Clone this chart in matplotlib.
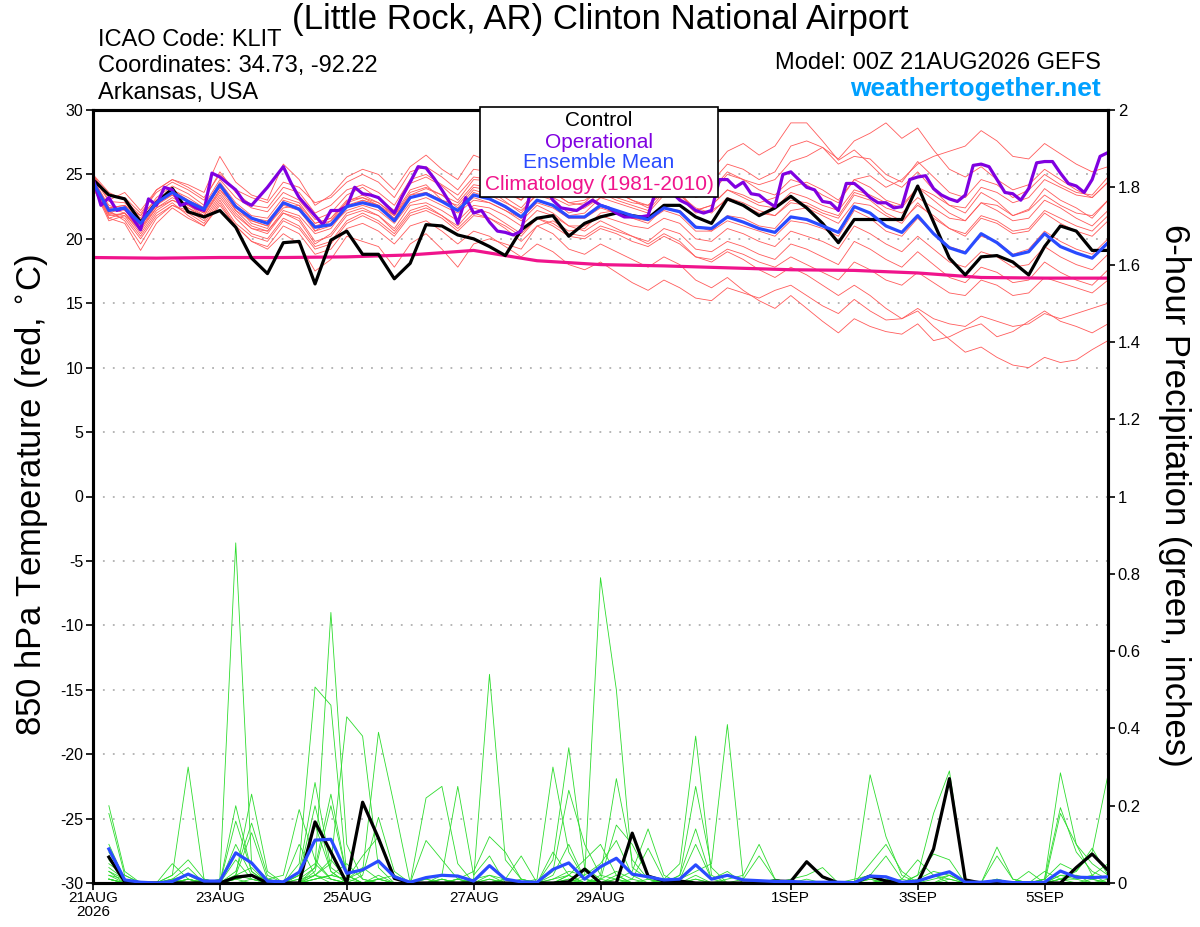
import numpy as np
import matplotlib.pyplot as plt
from matplotlib.patches import Rectangle
from matplotlib.ticker import FuncFormatter

# forecast hours (6-hourly GEFS, 3-hourly operational GFS)
hours = np.arange(0, 385, 6)
hours_op = np.arange(0, 385, 3)

xtick_hours = [0, 48, 96, 144, 192, 264, 312, 360]
xtick_labels = ['21AUG\n2026', '23AUG', '25AUG', '27AUG', '29AUG', '1SEP', '3SEP', '5SEP']

# 850 hPa temperature (C)
control_t = [24.6, 23.4, 23.1, 21.3, 22.8, 23.9, 22.1, 21.7, 22.2, 20.9,
             18.5, 17.3, 19.7, 19.8, 16.5, 19.9, 20.6, 18.8, 18.8, 16.9,
             18.1, 21.1, 21.0, 20.3, 20.0, 19.4, 18.7, 20.7, 21.6, 21.8,
             20.2, 21.2, 21.7, 22.0, 21.8, 21.6, 22.6, 22.6, 21.7, 21.2,
             23.1, 22.6, 21.8, 22.4, 23.3, 22.4, 21.2, 19.7, 21.5, 21.5,
             21.5, 21.5, 24.1, 21.3, 18.5, 17.2, 18.6, 18.7, 18.2, 17.2,
             19.4, 21.0, 20.6, 19.1, 19.1]

mean_t = [24.4, 22.2, 22.4, 21.2, 22.8, 23.6, 22.9, 22.3, 24.2, 22.5,
          21.6, 21.2, 22.8, 22.3, 20.9, 21.1, 22.5, 22.8, 22.5, 21.4,
          23.2, 23.5, 22.9, 22.2, 23.4, 23.1, 22.5, 21.7, 23.0, 22.6,
          21.7, 21.7, 22.6, 22.2, 21.8, 21.5, 22.4, 22.1, 20.9, 20.8,
          21.7, 21.3, 20.8, 20.5, 21.7, 21.5, 21.0, 20.5, 22.5, 22.0,
          21.0, 20.5, 21.8, 20.4, 19.3, 18.9, 20.4, 19.7, 18.7, 19.0,
          20.4, 19.4, 18.9, 18.5, 19.7]

oper_t = [24.7, 22.6, 23.2, 22.2, 22.4, 21.6, 20.7, 23.1, 22.6, 24.0,
          23.8, 22.6, 22.8, 22.4, 22.2, 25.1, 24.8, 24.3, 23.8, 22.9,
          22.6, 23.3, 24.0, 24.8, 25.6, 24.3, 23.2, 22.5, 21.8, 21.1,
          22.2, 22.2, 22.5, 24.0, 23.5, 23.4, 23.2, 22.6, 22.0, 23.3,
          24.4, 25.6, 25.5, 24.7, 23.8, 22.8, 21.2, 23.2, 22.0, 22.2,
          21.3, 20.6, 20.5, 20.3, 20.6, 23.2, 24.0, 24.0, 23.0, 22.4,
          22.3, 22.2, 22.6, 23.0, 22.6, 22.4, 22.0, 21.7, 21.7, 21.7,
          21.8, 23.8, 24.0, 23.6, 23.0, 22.7, 22.2, 22.0, 22.2, 24.6,
          24.6, 24.0, 24.4, 23.5, 23.4, 22.9, 22.5, 25.0, 25.2, 24.6,
          24.0, 23.8, 22.9, 22.8, 22.2, 24.3, 24.3, 23.8, 23.2, 22.8,
          22.8, 22.4, 22.5, 24.6, 24.8, 24.9, 23.9, 23.4, 23.1, 22.9,
          23.4, 25.7, 25.8, 25.6, 24.6, 23.6, 23.5, 23.0, 23.9, 25.9,
          26.0, 26.0, 25.1, 24.3, 24.1, 23.6, 24.6, 26.4, 26.7]

# climatology, one value per day at 00Z
clim_hours = np.arange(0, 385, 24)
clim_t = [18.55, 18.5, 18.55, 18.55, 18.6, 18.75, 19.1, 18.3, 18.0,
          17.9, 17.75, 17.6, 17.55, 17.35, 17.0, 16.95, 16.95]

members_t = [
    [24.8, 22.9, 22.8, 21.6, 23.2, 24.1, 23.5, 22.6, 24.6, 23.2, 22.4, 22.1, 23.6, 23.0, 21.5, 22.0,
     23.4, 24.0, 23.1, 22.2, 24.3, 24.8, 24.1, 23.0, 24.6, 24.5, 23.6, 23.0, 24.8, 24.4, 23.6, 23.9,
     25.2, 24.8, 24.1, 23.8, 25.6, 25.9, 24.6, 25.3, 26.8, 27.4, 26.5, 27.2, 29.0, 29.0, 27.6, 26.1,
     26.9, 25.8, 24.6, 24.0, 25.2, 23.8, 22.6, 22.0, 23.6, 22.9, 21.8, 22.3, 23.9, 23.0, 22.4, 21.6, 23.0],
    [24.2, 21.8, 22.0, 20.6, 22.4, 23.2, 22.6, 21.8, 23.8, 22.6, 21.2, 20.8, 23.0, 22.6, 20.6, 21.4,
     22.9, 23.4, 22.8, 21.9, 23.8, 24.2, 23.0, 22.6, 24.0, 23.8, 22.9, 22.0, 23.6, 23.2, 22.6, 22.8,
     24.0, 23.6, 23.0, 22.4, 24.2, 24.6, 23.2, 23.6, 25.0, 24.6, 24.2, 24.6, 26.0, 26.4, 27.1, 26.2,
     27.6, 28.2, 29.0, 27.8, 28.6, 26.9, 25.4, 24.8, 25.6, 24.6, 23.8, 24.2, 25.4, 24.6, 23.8, 23.2, 24.4],
    [24.5, 22.4, 22.6, 21.4, 23.0, 23.8, 23.2, 22.4, 24.4, 22.8, 21.8, 21.6, 23.2, 22.8, 21.2, 21.6,
     22.8, 23.2, 22.6, 21.6, 23.4, 23.9, 23.4, 22.4, 23.8, 23.4, 22.8, 22.2, 23.4, 23.0, 22.0, 22.4,
     23.2, 22.8, 22.4, 22.0, 23.4, 23.6, 22.2, 22.6, 23.8, 23.4, 22.8, 23.2, 24.0, 24.4, 23.8, 23.0,
     24.6, 24.9, 24.0, 24.6, 25.8, 26.4, 26.8, 27.2, 28.4, 27.6, 26.4, 26.2, 27.4, 26.6, 25.8, 25.2, 25.6],
    [24.9, 23.4, 23.2, 22.0, 23.6, 24.4, 23.8, 23.0, 25.2, 23.6, 22.6, 22.4, 24.0, 23.6, 22.0, 22.6,
     23.8, 24.2, 23.6, 22.6, 24.6, 25.0, 24.2, 23.4, 24.8, 24.6, 23.8, 23.0, 24.2, 23.6, 22.8, 23.0,
     23.8, 23.2, 22.8, 22.6, 23.6, 23.2, 22.0, 22.2, 23.0, 22.6, 22.0, 21.8, 23.0, 22.8, 22.2, 21.8,
     23.6, 23.2, 22.4, 22.0, 23.2, 22.4, 21.6, 21.4, 22.8, 22.6, 21.8, 22.2, 23.4, 22.6, 22.0, 21.8, 23.0],
    [24.3, 22.0, 21.8, 20.8, 22.6, 23.4, 22.4, 21.8, 23.6, 22.0, 20.8, 20.6, 22.2, 21.8, 20.4, 20.8,
     22.4, 23.0, 22.6, 21.8, 23.6, 24.0, 23.4, 22.8, 24.2, 24.0, 23.2, 22.4, 23.8, 23.6, 22.8, 22.6,
     23.6, 23.0, 22.6, 22.2, 23.6, 23.4, 22.4, 22.0, 23.2, 22.8, 22.2, 21.8, 22.8, 22.6, 22.0, 21.6,
     23.4, 23.0, 22.0, 21.4, 22.6, 21.8, 20.8, 20.4, 21.8, 21.4, 20.6, 20.8, 22.2, 21.6, 21.0, 20.6, 21.8],
    [24.6, 22.6, 22.2, 21.0, 22.6, 23.6, 23.0, 22.2, 24.0, 22.4, 21.4, 21.0, 22.6, 22.2, 20.6, 21.0,
     22.2, 22.6, 22.2, 21.2, 22.8, 23.2, 22.6, 22.0, 23.0, 22.8, 22.2, 21.6, 22.8, 22.4, 21.6, 21.6,
     22.4, 22.0, 21.6, 21.4, 22.2, 21.8, 20.6, 20.6, 21.4, 21.0, 20.6, 20.2, 21.4, 21.2, 20.8, 20.2,
     22.2, 21.6, 20.6, 20.2, 21.6, 20.4, 19.4, 19.0, 20.2, 19.8, 18.8, 19.2, 20.6, 19.8, 19.2, 18.8, 20.0],
    [24.0, 21.6, 22.0, 20.4, 22.2, 23.0, 22.4, 21.6, 23.4, 21.8, 20.8, 20.4, 22.0, 21.6, 19.8, 20.2,
     21.8, 22.2, 21.8, 20.8, 22.6, 22.8, 22.2, 21.4, 22.6, 22.4, 21.8, 21.0, 22.2, 21.8, 21.0, 21.0,
     21.8, 21.4, 21.0, 20.8, 21.6, 21.2, 20.0, 19.8, 20.8, 20.4, 19.8, 19.4, 20.6, 20.2, 19.8, 19.2,
     21.0, 20.4, 19.6, 19.0, 20.2, 19.2, 18.2, 17.8, 19.0, 18.6, 17.8, 18.0, 19.4, 18.6, 18.0, 17.6, 18.8],
    [24.1, 21.9, 21.6, 20.0, 21.8, 22.6, 22.0, 21.2, 23.0, 21.2, 20.2, 19.8, 21.4, 20.8, 19.2, 19.6,
     21.2, 21.8, 21.2, 20.2, 21.8, 22.2, 21.6, 20.6, 21.8, 21.6, 21.0, 20.2, 21.6, 21.2, 20.4, 20.2,
     21.0, 20.6, 20.2, 19.8, 20.8, 20.4, 19.2, 19.0, 19.8, 19.4, 18.8, 18.4, 19.6, 19.2, 18.6, 18.0,
     19.8, 19.2, 18.4, 17.8, 19.0, 18.0, 17.0, 16.6, 17.8, 17.4, 16.6, 16.8, 18.2, 17.4, 16.8, 16.4, 17.6],
    [24.7, 22.4, 22.6, 21.8, 23.0, 23.8, 23.0, 22.4, 24.0, 22.6, 21.6, 21.4, 22.8, 22.4, 21.0, 21.4,
     22.6, 23.0, 22.6, 21.6, 23.2, 23.6, 23.0, 22.2, 23.2, 22.8, 22.2, 21.4, 22.6, 22.0, 21.0, 20.6,
     21.4, 20.8, 20.2, 19.6, 20.4, 19.8, 18.6, 18.2, 19.0, 18.4, 17.6, 17.0, 17.8, 17.2, 16.4, 15.6,
     16.4, 15.6, 14.6, 13.8, 14.4, 13.2, 12.2, 11.2, 11.6, 10.8, 10.2, 10.0, 10.8, 10.4, 10.6, 11.4, 12.1],
    [24.2, 22.2, 21.4, 19.6, 21.6, 22.6, 22.2, 21.4, 23.2, 21.6, 20.4, 20.0, 21.6, 21.0, 19.4, 19.8,
     21.4, 22.0, 21.4, 20.4, 22.0, 22.4, 21.8, 20.8, 22.0, 21.6, 20.8, 19.8, 21.0, 20.4, 19.2, 18.8,
     19.6, 19.0, 18.4, 17.8, 18.6, 18.0, 16.8, 16.2, 17.0, 16.0, 15.2, 14.6, 15.6, 14.6, 13.6, 12.7,
     13.8, 13.2, 12.8, 12.6, 13.4, 12.1, 12.4, 13.0, 13.4, 12.4, 12.8, 13.6, 14.4, 13.6, 13.2, 12.7, 13.4],
    [24.0, 21.4, 21.8, 20.2, 22.0, 22.8, 21.8, 21.0, 22.6, 21.0, 19.8, 19.4, 21.0, 20.4, 18.8, 19.2,
     20.8, 21.2, 20.6, 19.6, 21.0, 21.4, 20.6, 19.6, 20.6, 20.2, 19.4, 18.6, 19.6, 19.0, 18.0, 17.6,
     18.2, 17.4, 16.6, 16.0, 16.8, 16.2, 15.4, 15.2, 16.2, 15.8, 15.4, 16.0, 16.4, 15.6, 14.8, 14.2,
     15.3, 14.4, 13.7, 13.8, 14.6, 13.8, 13.4, 13.2, 14.0, 13.6, 13.2, 13.4, 14.2, 13.8, 14.2, 14.6, 15.0],
    [24.4, 22.0, 22.4, 21.0, 22.8, 23.4, 22.6, 22.0, 23.8, 22.2, 21.0, 20.6, 22.0, 21.4, 19.6, 20.4,
     22.0, 22.4, 21.8, 20.6, 22.2, 22.6, 21.8, 21.0, 22.4, 22.0, 21.2, 20.4, 21.6, 21.0, 20.2, 20.0,
     20.8, 20.4, 19.8, 19.4, 20.2, 19.6, 18.6, 18.4, 19.2, 18.8, 18.2, 17.8, 18.6, 18.0, 17.4, 16.8,
     18.2, 17.6, 16.8, 16.4, 17.4, 16.6, 15.8, 15.6, 16.8, 16.4, 15.6, 15.8, 17.0, 16.6, 16.2, 15.8, 16.8],
    [25.0, 23.0, 23.6, 22.2, 23.8, 24.6, 24.0, 23.2, 25.0, 23.8, 23.2, 22.8, 24.4, 24.0, 22.8, 23.2,
     24.4, 25.0, 24.4, 23.2, 25.2, 25.6, 24.8, 23.8, 25.4, 25.2, 24.4, 23.6, 25.0, 24.8, 23.8, 23.6,
     24.6, 24.2, 23.8, 23.6, 24.8, 25.2, 24.0, 24.4, 25.8, 25.4, 24.6, 25.2, 27.2, 27.6, 27.1, 25.8,
     26.4, 26.2, 25.0, 24.4, 26.0, 24.8, 23.6, 23.2, 24.6, 24.2, 23.2, 23.8, 25.0, 24.2, 23.6, 23.4, 24.8],
    [24.3, 21.6, 21.2, 19.1, 21.2, 22.4, 21.6, 21.0, 22.8, 21.0, 19.8, 19.2, 20.4, 19.6, 17.5, 18.4,
     20.2, 19.8, 19.4, 17.8, 19.6, 20.4, 19.2, 17.8, 19.6, 20.0, 19.6, 19.2, 21.0, 21.4, 20.6, 20.8,
     22.0, 22.2, 21.6, 21.2, 22.4, 22.2, 21.0, 20.6, 21.8, 21.6, 21.0, 20.8, 22.2, 22.4, 21.8, 21.2,
     22.8, 22.6, 21.8, 21.2, 22.8, 21.6, 20.8, 20.2, 21.6, 21.2, 20.4, 20.6, 22.0, 21.2, 20.6, 20.2, 21.4],
    [25.0, 23.6, 23.0, 21.8, 23.8, 24.6, 24.2, 23.6, 26.4, 24.4, 23.4, 23.0, 25.8, 24.6, 22.6, 23.4,
     24.8, 25.4, 25.0, 23.8, 25.6, 26.5, 25.4, 24.6, 26.5, 26.0, 25.0, 24.2, 25.8, 25.2, 24.0, 24.4,
     25.6, 25.0, 24.2, 23.6, 25.0, 24.6, 23.4, 23.8, 25.2, 24.6, 23.8, 23.4, 24.6, 24.2, 23.4, 22.8,
     24.6, 24.0, 23.0, 22.6, 24.0, 23.0, 22.0, 21.4, 22.8, 22.2, 21.4, 21.6, 23.0, 22.4, 21.6, 21.0, 22.2],
    [24.6, 22.4, 22.0, 20.8, 22.4, 23.0, 22.6, 22.0, 24.2, 22.2, 21.4, 21.0, 22.4, 22.6, 21.2, 21.6,
     23.0, 23.2, 22.8, 21.8, 23.4, 23.6, 23.0, 22.2, 23.6, 23.2, 22.4, 21.6, 23.0, 22.6, 21.8, 22.0,
     23.2, 23.6, 23.0, 22.6, 23.8, 23.4, 22.2, 22.6, 23.8, 23.2, 22.6, 22.4, 23.6, 23.2, 22.6, 22.2,
     23.8, 23.4, 22.8, 22.4, 24.0, 23.4, 22.6, 22.4, 24.0, 23.6, 22.8, 23.2, 24.6, 24.0, 23.4, 23.2, 24.4],
]

# 6-hour precipitation (inches), periods ending at hours[1:]
control_p = [0.067, 0.003, 0, 0, 0, 0, 0, 0, 0.015, 0.02, 0, 0, 0, 0.158, 0.08, 0,
             0.209, 0.116, 0.012, 0, 0, 0, 0, 0, 0, 0, 0, 0, 0, 0.003, 0.036, 0,
             0, 0.129, 0.018, 0.005, 0.005, 0, 0, 0, 0, 0, 0.005, 0.004, 0.055, 0.016, 0, 0,
             0.018, 0.005, 0, 0.001, 0.088, 0.27, 0.008, 0, 0, 0, 0, 0, 0, 0.04, 0.075, 0.033]

mean_p = [0.088, 0.008, 0.002, 0, 0.004, 0.023, 0.005, 0.005, 0.078, 0.052, 0.005, 0.003, 0.028, 0.111, 0.113, 0.025,
          0.034, 0.057, 0.016, 0.002, 0.014, 0.02, 0.018, 0.005, 0.045, 0.01, 0.003, 0.002, 0.035, 0.052, 0.01, 0.042,
          0.064, 0.023, 0.016, 0.008, 0.01, 0.047, 0.01, 0.02, 0.008, 0.006, 0.004, 0.004, 0.002, 0.002, 0.002, 0.001,
          0.018, 0.016, 0.002, 0.005, 0.018, 0.029, 0.002, 0.002, 0.006, 0.001, 0.001, 0.002, 0.031, 0.015, 0.014, 0.016]

members_p = [
    [0.20, 0.03, 0, 0, 0, 0.01, 0, 0, 0.02, 0.01, 0, 0, 0.05, 0.507, 0.46, 0.02,
     0, 0.01, 0, 0, 0, 0.01, 0, 0, 0.01, 0, 0, 0, 0.08, 0.02, 0, 0,
     0.01, 0, 0, 0.01, 0.05, 0.38, 0.02, 0, 0, 0, 0, 0, 0.01, 0, 0, 0,
     0, 0.01, 0, 0, 0.02, 0.01, 0, 0, 0, 0, 0, 0, 0.02, 0.01, 0, 0],
    [0.18, 0.02, 0, 0, 0.01, 0, 0, 0.01, 0.88, 0.05, 0.01, 0, 0.02, 0.05, 0.01, 0,
     0, 0.02, 0, 0, 0, 0, 0.01, 0, 0, 0, 0.01, 0, 0.02, 0.10, 0.01, 0,
     0, 0, 0.01, 0, 0.02, 0.14, 0.01, 0, 0, 0, 0, 0, 0, 0, 0, 0,
     0.01, 0, 0, 0, 0, 0.02, 0, 0, 0.093, 0.01, 0, 0, 0, 0, 0.01, 0],
    [0.10, 0.01, 0, 0, 0.02, 0.30, 0.01, 0, 0.01, 0.02, 0, 0, 0, 0.02, 0.01, 0,
     0.02, 0.17, 0.03, 0, 0, 0.01, 0, 0, 0, 0.01, 0, 0, 0, 0.02, 0.06, 0.10,
     0.02, 0, 0, 0, 0.01, 0.03, 0.05, 0.41, 0.01, 0, 0, 0, 0, 0, 0, 0,
     0, 0, 0, 0.01, 0.03, 0.02, 0, 0, 0.07, 0.01, 0, 0, 0.01, 0.02, 0, 0],
    [0.08, 0.01, 0, 0, 0, 0.01, 0, 0, 0.03, 0.155, 0.02, 0, 0.01, 0.04, 0.70, 0.10,
     0.01, 0, 0, 0, 0.01, 0, 0, 0, 0.02, 0, 0, 0, 0, 0.01, 0, 0.01,
     0.03, 0.01, 0, 0, 0, 0.02, 0, 0.01, 0.02, 0.10, 0.01, 0, 0, 0, 0, 0,
     0, 0, 0, 0, 0.01, 0.02, 0, 0, 0.01, 0, 0.03, 0, 0.02, 0.02, 0.01, 0],
    [0.06, 0.01, 0, 0, 0, 0, 0.01, 0, 0.20, 0.03, 0, 0, 0.01, 0.02, 0.06, 0.01,
     0.04, 0.01, 0, 0, 0, 0, 0, 0, 0, 0.01, 0, 0, 0.01, 0.03, 0.02, 0.79,
     0.50, 0.04, 0.01, 0, 0, 0.01, 0, 0, 0, 0, 0, 0, 0, 0, 0, 0,
     0, 0, 0, 0, 0, 0, 0, 0, 0, 0, 0, 0.03, 0.01, 0, 0, 0.01],
    [0.05, 0.02, 0, 0, 0.01, 0.02, 0, 0, 0.02, 0.23, 0.03, 0, 0, 0.01, 0.02, 0.05,
     0.01, 0, 0, 0, 0.11, 0.06, 0.01, 0, 0, 0, 0, 0, 0, 0.01, 0, 0.02,
     0.27, 0.06, 0.01, 0, 0, 0, 0, 0, 0, 0, 0.01, 0, 0, 0, 0, 0,
     0, 0, 0, 0, 0, 0.01, 0, 0, 0, 0, 0, 0.01, 0.285, 0.10, 0.05, 0.02],
    [0.04, 0.01, 0, 0, 0.02, 0.06, 0.01, 0, 0.01, 0.02, 0.01, 0.02, 0.19, 0.06, 0.01, 0,
     0, 0.01, 0, 0, 0.01, 0, 0.01, 0.03, 0.12, 0.08, 0.01, 0, 0, 0.02, 0, 0,
     0.02, 0, 0, 0, 0.02, 0.25, 0.04, 0, 0, 0, 0, 0, 0, 0, 0, 0,
     0, 0, 0, 0, 0, 0, 0, 0, 0, 0, 0, 0.01, 0.195, 0.08, 0.03, 0.01],
    [0.03, 0.01, 0, 0, 0.05, 0.01, 0, 0, 0.02, 0.04, 0, 0, 0.03, 0.26, 0.04, 0.01,
     0, 0.01, 0.02, 0, 0, 0, 0, 0.01, 0.02, 0.01, 0.07, 0, 0, 0, 0.01, 0,
     0, 0, 0, 0, 0.01, 0.10, 0.01, 0.03, 0, 0, 0, 0, 0, 0, 0, 0,
     0.01, 0, 0, 0, 0, 0, 0, 0, 0, 0, 0, 0, 0.18, 0.10, 0.02, 0],
    [0.03, 0, 0, 0, 0, 0.01, 0, 0, 0.16, 0.03, 0, 0, 0, 0.04, 0.23, 0.02,
     0, 0, 0, 0, 0, 0.01, 0, 0, 0.01, 0, 0, 0, 0.06, 0.35, 0.04, 0.01,
     0, 0, 0, 0.01, 0, 0.01, 0, 0, 0.01, 0.07, 0.01, 0, 0, 0, 0, 0,
     0, 0, 0, 0, 0, 0, 0, 0, 0.01, 0, 0, 0.01, 0.05, 0.03, 0.09, 0.02],
    [0.02, 0, 0, 0, 0.01, 0.04, 0, 0, 0.01, 0.02, 0, 0, 0.02, 0.20, 0.03, 0,
     0, 0, 0, 0, 0, 0, 0.01, 0, 0, 0.01, 0, 0, 0.03, 0.24, 0.10, 0.02,
     0.01, 0, 0, 0, 0, 0, 0, 0, 0, 0, 0, 0.01, 0.02, 0.04, 0, 0,
     0, 0, 0, 0, 0, 0, 0, 0, 0, 0, 0, 0, 0.01, 0.03, 0.08, 0.28],
    [0.02, 0.01, 0, 0, 0, 0, 0, 0, 0.10, 0.02, 0, 0, 0, 0.02, 0.05, 0.43,
     0.38, 0.04, 0, 0, 0, 0, 0, 0, 0, 0, 0, 0, 0.01, 0.02, 0, 0,
     0, 0, 0, 0, 0, 0, 0, 0, 0, 0, 0, 0, 0, 0, 0, 0,
     0.28, 0.12, 0.02, 0, 0, 0, 0, 0, 0, 0, 0, 0, 0.01, 0.01, 0.02, 0.05],
    [0.01, 0, 0, 0, 0, 0, 0, 0, 0.06, 0.01, 0, 0, 0, 0.01, 0.02, 0.01,
     0.03, 0.39, 0.20, 0, 0, 0, 0, 0, 0, 0, 0, 0, 0, 0, 0.02, 0.05,
     0.11, 0.02, 0, 0, 0, 0, 0, 0, 0, 0, 0, 0, 0, 0, 0, 0,
     0.05, 0.10, 0.03, 0, 0, 0, 0, 0, 0, 0, 0, 0, 0, 0, 0, 0],
    [0.01, 0, 0, 0, 0, 0.01, 0, 0, 0.02, 0.13, 0.01, 0, 0, 0.03, 0.20, 0.02,
     0, 0, 0, 0, 0.22, 0.25, 0.05, 0, 0, 0, 0, 0, 0, 0, 0, 0,
     0, 0, 0, 0, 0, 0, 0, 0, 0, 0, 0, 0, 0, 0, 0, 0.01,
     0.02, 0.07, 0.01, 0, 0, 0, 0, 0, 0, 0, 0, 0, 0, 0, 0, 0],
    [0.01, 0, 0, 0, 0, 0, 0, 0, 0.01, 0, 0, 0, 0.10, 0.02, 0, 0,
     0, 0, 0, 0, 0, 0.02, 0.25, 0.02, 0.07, 0, 0, 0, 0, 0, 0, 0.01,
     0.15, 0.10, 0.02, 0, 0, 0, 0, 0, 0, 0, 0, 0, 0, 0, 0, 0,
     0, 0, 0.01, 0.06, 0.02, 0, 0, 0, 0, 0, 0, 0, 0, 0, 0, 0],
    [0.01, 0, 0, 0, 0, 0, 0, 0, 0, 0.01, 0, 0, 0.02, 0.15, 0.03, 0,
     0, 0, 0, 0, 0, 0, 0, 0.01, 0.54, 0.06, 0.01, 0, 0, 0, 0, 0,
     0.01, 0.03, 0.14, 0.02, 0, 0, 0, 0, 0, 0, 0, 0, 0, 0, 0, 0,
     0, 0, 0, 0.02, 0.18, 0.29, 0.01, 0, 0, 0, 0, 0, 0, 0, 0, 0],
    [0.01, 0, 0, 0, 0, 0, 0, 0, 0, 0, 0, 0, 0, 0.01, 0.02, 0.01,
     0.07, 0.12, 0.02, 0, 0, 0, 0, 0, 0, 0, 0, 0.01, 0.30, 0.08, 0.01, 0,
     0, 0.01, 0.09, 0.01, 0, 0, 0, 0, 0, 0, 0, 0, 0, 0, 0, 0,
     0, 0.01, 0, 0.02, 0.075, 0.06, 0, 0, 0, 0, 0, 0, 0, 0, 0, 0],
]

RED = '#ff5a5a'
GREEN = '#2edc2e'
PURPLE = '#8000e0'
BLUE = '#2a4bff'
MAGENTA = '#f0148c'

plt.rcParams['font.family'] = ['Liberation Sans', 'DejaVu Sans']
plt.rcParams['axes.unicode_minus'] = False

fig = plt.figure(figsize=(12, 9.27), dpi=100)
ax = fig.add_axes([93 / 1200, 44 / 927, 1015 / 1200, 773 / 927])
ax2 = ax.twinx()

for m in members_t:
    ax.plot(hours, m, color=RED, lw=0.6, zorder=2)

for lvl in range(-25, 30, 5):
    ax.axhline(lvl, color='#b0b0b0', lw=1.3, ls=(0, (1, 4.5)), zorder=1)

ax.plot(clim_hours, clim_t, color=MAGENTA, lw=2.3, zorder=4)
ax.plot(hours, control_t, color='black', lw=2.3, zorder=5)
ax.plot(hours_op, oper_t, color=PURPLE, lw=2.3, zorder=6)
ax.plot(hours, mean_t, color=BLUE, lw=2.3, zorder=7)

for m in members_p:
    ax2.plot(hours[1:], m, color=GREEN, lw=0.6, zorder=2)
ax2.plot(hours[1:], control_p, color='black', lw=2.3, zorder=5)
ax2.plot(hours[1:], mean_p, color=BLUE, lw=2.3, zorder=6)

ax.set_xlim(0, 384)
ax.set_ylim(-30, 30)
ax2.set_ylim(0, 2)
ax.set_yticks(range(-30, 31, 5))
ax2.set_yticks(np.arange(0, 2.01, 0.2))
ax2.yaxis.set_major_formatter(FuncFormatter(lambda v, p: '%g' % round(v, 1)))
ax.set_xticks(xtick_hours)
ax.set_xticklabels(xtick_labels, linespacing=1.0)

for a in (ax, ax2):
    for s in a.spines.values():
        s.set_linewidth(2.2)
    a.tick_params(labelsize=11.5, length=5, width=1.2, pad=2)
ax2.tick_params(labelsize=12)
ax.tick_params(axis='x', labelsize=11, length=5, pad=1)

fig.text(32 / 1200, 1 - 495 / 927, '850 hPa Temperature (red, $^{\\circ}$C)',
         rotation=90, ha='center', va='center', fontsize=25)
fig.text(1175 / 1200, 1 - 495 / 927, '6-hour Precipitation (green, inches)',
         rotation=-90, ha='center', va='center', fontsize=25)

fig.text(0.5, 1 - 19 / 927, '(Little Rock, AR) Clinton National Airport',
         ha='center', va='center', fontsize=25)
fig.text(98 / 1200, 1 - 40 / 927, 'ICAO Code: KLIT', ha='left', va='center', fontsize=17)
fig.text(98 / 1200, 1 - 66 / 927, 'Coordinates: 34.73, -92.22', ha='left', va='center', fontsize=17)
fig.text(98 / 1200, 1 - 93 / 927, 'Arkansas, USA', ha='left', va='center', fontsize=17)
fig.text(1101 / 1200, 1 - 63 / 927, 'Model: 00Z 21AUG2026 GEFS', ha='right', va='center', fontsize=17)
fig.text(1101 / 1200, 1 - 89 / 927, 'weathertogether.net', ha='right', va='center',
         fontsize=19, fontweight='bold', color='#00a0ff')

# legend box
fig.add_artist(Rectangle((480 / 1200, 1 - 197 / 927), 238 / 1200, 90 / 927,
                         transform=fig.transFigure, facecolor='white',
                         edgecolor='black', lw=1.2, zorder=10))
legend_items = [('Control', 'black', 120), ('Operational', PURPLE, 142),
                ('Ensemble Mean', BLUE, 163), ('Climatology (1981-2010)', MAGENTA, 185)]
for label, col, ypx in legend_items:
    fig.text(599 / 1200, 1 - ypx / 927, label, ha='center', va='center',
             fontsize=15, color=col, zorder=11)

fig.savefig('out.png', dpi=100)
